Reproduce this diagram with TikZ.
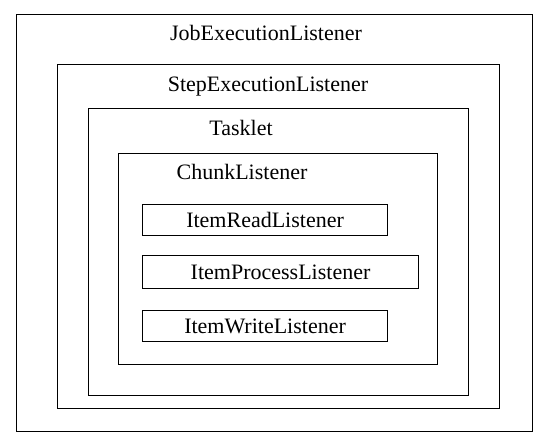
\documentclass[tikz,border=0pt]{standalone}
\usepackage{fontspec}
\setmainfont{Liberation Serif}
\usetikzlibrary{positioning}

\begin{document}
\begin{tikzpicture}[x=1pt,y=-1pt,
    frame/.style={draw, line width=1.1pt, anchor=north west, inner sep=0pt},
    itembox/.style={frame, font=\fontsize{22}{26}\selectfont},
    title/.style={font=\fontsize{22}{26}\selectfont, inner sep=0pt}]
  \useasboundingbox (0,0) rectangle (550,444);
  % nested listener frames
  \node[frame, minimum width=516pt, minimum height=417pt] (job) at (16,14) {};
  \node[frame, minimum width=442pt, minimum height=344pt] (step) at (57,64) {};
  \node[frame, minimum width=380pt, minimum height=287pt] (tasklet) at (88,108) {};
  \node[frame, minimum width=319pt, minimum height=211pt] (chunk) at (118,153) {};
  % frame titles
  \node[title] (jobtitle) at (266,33) {JobExecutionListener};
  \node[title] (steptitle) at (268,87) {StepExecutionListener};
  \node[title] (tasklettitle) at (241,128) {Tasklet};
  \node[title] (chunktitle) at (242,172) {ChunkListener};
  % item listeners
  \node[itembox, minimum width=245pt, minimum height=31pt] (read) at (142,204) {ItemReadListener};
  \node[itembox, minimum width=276pt, minimum height=33pt] (process) at (142,255) {ItemProcessListener};
  \node[itembox, minimum width=245pt, minimum height=31pt] (write) at (142,310) {ItemWriteListener};
\end{tikzpicture}
\end{document}
